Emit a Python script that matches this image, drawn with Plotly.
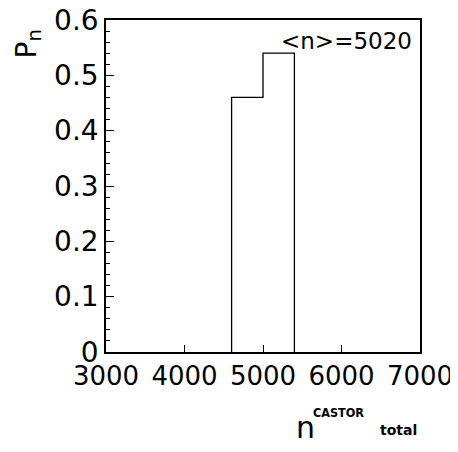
import plotly.graph_objects as go

bin_edges = [4600, 5000, 5400]
probabilities = [0.46, 0.54]
mean_label = "<n>=5020"
x_range = [3000, 7000]
y_range = [0, 0.6]

xs = [bin_edges[0]] + bin_edges
ys = [0] + probabilities + [0]

fig = go.Figure()
fig.add_trace(go.Scatter(x=xs, y=ys, mode="lines", line=dict(shape="hv", color="black", width=1.3),
                         hoverinfo="skip", showlegend=False))

font = "DejaVu Sans"
narrow = "Liberation Sans Narrow, DejaVu Sans Condensed, DejaVu Sans"
fig.update_layout(
    width=450, height=444,
    margin=dict(l=98, r=38, t=12, b=100, autoexpand=False),
    paper_bgcolor="white", plot_bgcolor="white",
    showlegend=False,
    xaxis=dict(range=x_range, dtick=1000, tick0=3000, ticks="inside", ticklen=7, tickwidth=1,
               tickcolor="black", showline=True, linecolor="black", linewidth=1.5, mirror=True,
               showgrid=False, zeroline=False, automargin=False, ticklabeloverflow="allow",
               tickfont=dict(family=font, size=26, color="black")),
    yaxis=dict(range=y_range, dtick=0.1, tick0=0, ticks="inside", ticklen=8, tickwidth=1,
               tickcolor="black", showline=True, linecolor="black", linewidth=1.5, mirror=True,
               showgrid=False, zeroline=False, tickformat=".1~f", automargin=False,
               ticklabeloverflow="allow",
               minor=dict(dtick=0.02, ticks="inside", ticklen=4, tickcolor="black", tickwidth=1),
               tickfont=dict(family=font, size=28, color="black")),
)

fig.add_annotation(text=mean_label, xref="paper", yref="paper", x=1.0, y=1.0,
                   xanchor="right", yanchor="top", xshift=-6, yshift=-6, showarrow=False,
                   font=dict(family=font, size=23, color="black"))

# y axis title P_n
fig.add_annotation(text="P<sub>n</sub>", xref="paper", yref="paper", x=0, y=1.0,
                   xanchor="center", yanchor="top", xshift=-78, yshift=-8, textangle=-90, showarrow=False,
                   font=dict(family=font, size=28, color="black"))

# x axis title n^CASTOR_total
fig.add_annotation(text="n", xref="paper", yref="paper", x=0, y=0, xanchor="left", yanchor="top",
                   xshift=188, yshift=-56, showarrow=False, font=dict(family=font, size=30, color="black"))
fig.add_annotation(text="<b>CASTOR</b>", xref="paper", yref="paper", x=0, y=0, xanchor="left", yanchor="top",
                   xshift=205, yshift=-51, showarrow=False, font=dict(family=narrow, size=12.5, color="black"))
fig.add_annotation(text="<b>total</b>", xref="paper", yref="paper", x=0, y=0, xanchor="left", yanchor="top",
                   xshift=272, yshift=-68, showarrow=False, font=dict(family=font, size=14, color="black"))

fig.write_html("out.html")
